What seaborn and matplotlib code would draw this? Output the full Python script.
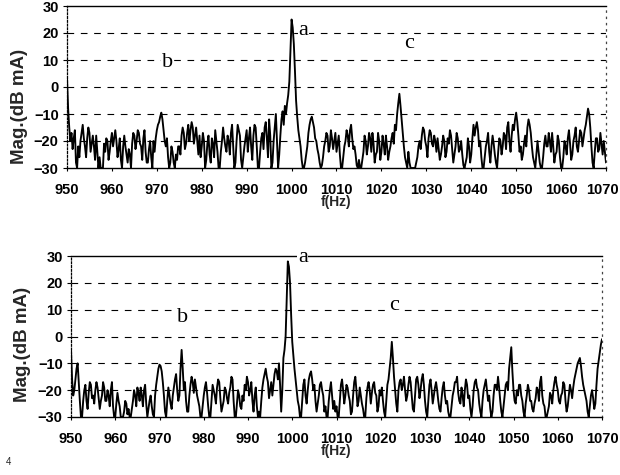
import numpy as np
import pandas as pd
import matplotlib
matplotlib.use("Agg")
import matplotlib.pyplot as plt
import matplotlib.transforms as mtrans
import seaborn as sns

# frequency axis (Hz), 0.25 Hz steps from 950 to 1070
freq_start, freq_stop, freq_step = 950.0, 1070.0, 0.25

# upper spectrum (dB mA) (one row = 10 Hz)
mag_top = [
    3.5, -8, -15, -20, -17, -23, -19, -16, -28, -30, -22, -26, -20, -17, -14, -19, -22, -26, -19, -15,
    -17, -24, -21, -18, -22, -27, -18, -24, -30, -26, -30, -30, -30, -21, -24, -19, -20, -27, -24, -20,
    -17, -22, -19, -16, -20, -26, -23, -19, -27, -30, -22, -18, -22, -25, -28, -23, -25, -30, -21, -17,
    -18, -23, -20, -16, -17, -21, -22, -27, -19, -16, -24, -28, -28, -23, -20, -26, -30, -20, -24, -19,
    -16, -14, -13, -11, -9.5, -12, -16, -20, -22, -19, -26, -30, -28, -22, -24, -28, -30, -25, -27, -22,
    -22, -25, -18, -15, -17, -23, -21, -17, -14, -20, -16, -13, -15, -21, -18, -15, -20, -25, -18, -26,
    -22, -17, -20, -30, -27, -21, -18, -25, -28, -19, -21, -26, -16, -20, -24, -30, -30, -24, -20, -15,
    -19, -22, -24, -18, -20, -25, -17, -14, -22, -30, -28, -20, -14, -16, -18, -27, -30, -26, -22, -19,
    -16, -24, -19, -15, -22, -27, -18, -14, -15, -22, -30, -30, -24, -19, -17, -23, -15, -13, -19, -26,
    -12, -18, -30, -28, -20, -15, -10, -20, -30, -25, -18, -12, -9, -14, -7, -10, -6, -3, 2, 14,
    25, 22, 16, 6, -5, -11, -16, -19, -22, -27, -30, -30, -28, -25, -22, -17, -14, -12, -11, -13,
    -15, -19, -20, -23, -25, -28, -30, -29, -26, -22, -20, -17, -18, -24, -22, -16, -19, -23, -20, -17,
    -24, -21, -18, -25, -30, -30, -26, -22, -20, -16, -18, -22, -16, -14, -19, -23, -22, -25, -29, -30,
    -27, -30, -30, -27, -24, -18, -20, -25, -22, -17, -19, -24, -17, -21, -28, -25, -24, -17, -20, -27,
    -24, -18, -21, -25, -18, -22, -27, -24, -22, -19, -17, -21, -14, -16, -10, -6, -2.5, -7, -12, -17,
    -22, -26, -28, -30, -24, -28, -30, -30, -30, -30, -30, -28, -26, -22, -20, -23, -18, -15, -16, -20,
    -22, -26, -19, -16, -17, -21, -22, -18, -20, -24, -19, -23, -27, -25, -22, -18, -20, -26, -24, -19,
    -21, -16, -18, -23, -28, -25, -22, -17, -19, -24, -23, -20, -25, -29, -30, -28, -26, -19, -22, -28,
    -25, -19, -14, -18, -15, -13, -16, -22, -20, -26, -30, -30, -26, -22, -20, -17, -24, -28, -22, -18,
    -21, -25, -28, -30, -24, -19, -20, -25, -22, -17, -18, -23, -15, -13, -20, -24, -18, -14, -16, -12,
    -9.5, -13, -18, -24, -22, -27, -25, -21, -18, -22, -15, -12, -14, -17, -22, -26, -28, -30, -25, -20,
    -24, -28, -30, -30, -26, -21, -18, -22, -22, -17, -20, -24, -17, -22, -28, -25, -24, -18, -20, -26,
    -30, -30, -26, -20, -22, -25, -19, -16, -21, -27, -25, -20, -18, -15, -22, -24, -20, -16, -17, -22,
    -19, -16, -14, -11, -8, -10, -15, -22, -28, -30, -24, -19, -19, -24, -23, -17, -21, -25, -20, -24,
    -28,
]

# lower spectrum (dB mA) (one row = 10 Hz)
mag_bottom = [
    -5, -16, -22, -20, -16, -12, -10, -17, -24, -30, -30, -24, -20, -18, -24, -27, -21, -17, -18, -23,
    -22, -25, -20, -17, -19, -23, -27, -24, -22, -17, -19, -24, -24, -20, -22, -26, -20, -17, -26, -30,
    -30, -25, -21, -24, -26, -30, -30, -30, -28, -24, -25, -29, -27, -30, -30, -27, -24, -20, -22, -26,
    -19, -21, -24, -19, -22, -26, -20, -18, -25, -30, -27, -24, -22, -26, -29, -30, -22, -18, -15, -12,
    -10.5, -11, -13, -17, -22, -28, -30, -24, -19, -22, -25, -27, -22, -19, -16, -14, -20, -24, -22, -12,
    -5, -12, -20, -17, -24, -28, -28, -22, -18, -15, -17, -21, -16, -19, -22, -24, -26, -30, -30, -26,
    -22, -19, -17, -21, -26, -30, -30, -24, -18, -20, -22, -25, -19, -16, -17, -23, -28, -26, -24, -19,
    -20, -23, -25, -21, -19, -15, -16, -24, -30, -30, -25, -20, -22, -26, -27, -22, -24, -18, -20, -15,
    -17, -22, -20, -17, -24, -28, -22, -19, -26, -30, -28, -30, -24, -19, -16, -14, -12, -15, -17, -23,
    -20, -17, -22, -18, -14, -12, -13, -16, -10, -18, -28, -20, -8, -5, 0, 14, 28, 26, 20, 8,
    -2, -7, -12, -16, -20, -24, -26, -30, -30, -24, -18, -16, -22, -25, -20, -16, -14, -13, -16, -20,
    -18, -24, -28, -25, -22, -18, -17, -20, -22, -28, -26, -30, -30, -24, -20, -17, -22, -27, -24, -28,
    -26, -30, -30, -24, -18, -16, -20, -25, -22, -18, -19, -22, -24, -29, -28, -22, -17, -15, -20, -26,
    -24, -19, -22, -25, -27, -30, -30, -23, -19, -17, -20, -25, -21, -18, -17, -21, -22, -28, -26, -20,
    -22, -19, -24, -28, -30, -24, -18, -16, -12, -8, -2, -8, -15, -20, -25, -28, -20, -17, -16, -20,
    -18, -15, -20, -24, -22, -18, -15, -17, -22, -27, -28, -22, -16, -15, -18, -23, -20, -16, -14, -18,
    -24, -28, -30, -24, -18, -16, -20, -25, -22, -19, -17, -20, -24, -27, -28, -23, -19, -17, -22, -25,
    -24, -28, -30, -30, -26, -22, -20, -17, -17, -15, -21, -24, -25, -19, -22, -26, -20, -16, -18, -23,
    -22, -27, -30, -26, -20, -17, -16, -19, -20, -25, -28, -30, -24, -20, -18, -16, -20, -24, -22, -27,
    -30, -28, -22, -18, -18, -20, -15, -19, -24, -28, -30, -26, -22, -18, -17, -20, -12, -8, -4, -13,
    -20, -24, -25, -20, -22, -18, -18, -22, -24, -28, -30, -25, -22, -18, -20, -24, -24, -27, -28, -25,
    -23, -19, -20, -24, -17, -15, -22, -25, -26, -30, -30, -28, -26, -21, -22, -25, -20, -17, -15, -18,
    -20, -24, -25, -22, -21, -17, -18, -24, -28, -26, -22, -18, -20, -23, -19, -16, -14, -12, -10, -9,
    -8, -11, -15, -18, -20, -22, -24, -28, -30, -26, -22, -20, -23, -27, -25, -18, -12, -9, -6, -3,
    -1,
]

x_ticks = [950, 960, 970, 980, 990, 1000, 1010, 1020, 1030, 1040, 1050, 1060, 1070]
y_ticks = [-30, -20, -10, 0, 10, 20, 30]
y_label = "Mag.(dB mA)"
x_label = "f(Hz)"

# annotation letters: (text, x, y) for each panel
notes_top = [("a", 1002.6, 21.0), ("b", 972.3, 9.0), ("c", 1026.2, 16.0)]
notes_bottom = [("a", 1002.4, 29.5), ("b", 975.3, 7.2), ("c", 1023.1, 11.7)]

n_pts = int(round((freq_stop - freq_start) / freq_step)) + 1
assert len(mag_top) == n_pts, len(mag_top)
assert len(mag_bottom) == n_pts, len(mag_bottom)
freqs = freq_start + freq_step * np.arange(n_pts)
df_top = pd.DataFrame({"f": freqs, "mag": mag_top})
df_bot = pd.DataFrame({"f": freqs, "mag": mag_bottom})

sns.set_style("white")
plt.rcParams["font.family"] = ["Liberation Sans", "DejaVu Sans"]

fig = plt.figure(figsize=(6.2, 4.75), dpi=100)
ax1 = fig.add_axes([67 / 620, 1 - 168 / 475, 539 / 620, 162 / 475])
ax2 = fig.add_axes([71 / 620, 1 - 417 / 475, 531 / 620, 161 / 475])


def style(ax, df, notes, ylab_xy):
    sns.lineplot(data=df, x="f", y="mag", ax=ax, color="black", linewidth=1.35)
    ax.set_xlim(950, 1070)
    ax.set_ylim(-30, 30)
    ax.set_xticks(x_ticks)
    ax.set_yticks(y_ticks)
    ax.tick_params(axis="x", direction="out", length=2.5, width=0.8, pad=8,
                   labelsize=10.5, colors="black", bottom=True)
    ax.tick_params(axis="y", direction="out", length=3, width=0.8, pad=3,
                   labelsize=10.5, colors="black", left=True)
    for lab in ax.get_xticklabels() + ax.get_yticklabels():
        lab.set_fontweight("bold")
    for v in [-20, -10, 0, 10, 20]:
        ax.axhline(v, color="black", linewidth=0.8, linestyle=(0, (6, 6)), zorder=0)
    ax.spines["top"].set_color("black")
    ax.spines["top"].set_linewidth(1.0)
    ax.spines["bottom"].set_color("black")
    ax.spines["bottom"].set_linewidth(1.0)
    ax.spines["left"].set_linestyle((0, (1.5, 1.5)))
    ax.spines["left"].set_color("black")
    ax.spines["left"].set_linewidth(0.9)
    ax.spines["right"].set_linestyle((0, (1, 4)))
    ax.spines["right"].set_color("#444444")
    ax.spines["right"].set_linewidth(0.9)
    ax.set_xlabel(x_label, fontsize=10, fontweight="bold", labelpad=-1)
    ax.set_ylabel(y_label, fontsize=13.5, fontweight="bold")
    ax.yaxis.set_label_coords(*ylab_xy)
    for t, x, y in notes:
        ax.text(x, y, t, fontsize=16, family=["Liberation Serif", "DejaVu Serif"],
                ha="center", va="center", color="black",
                bbox=dict(facecolor="white", edgecolor="none", pad=0.5))


style(ax1, df_top, notes_top, (-0.072, 0.38))
style(ax2, df_bot, notes_bottom, (-0.075, 0.45))

# keep the last top-panel tick label inside the canvas
last = ax1.get_xticklabels()[-1]
last.set_transform(last.get_transform() + mtrans.ScaledTranslation(-4 / 100, 0, fig.dpi_scale_trans))

fig.text(8 / 620, 1 - 462 / 475, "4", fontsize=7, ha="center", va="center")

fig.savefig("out.png", dpi=100)
